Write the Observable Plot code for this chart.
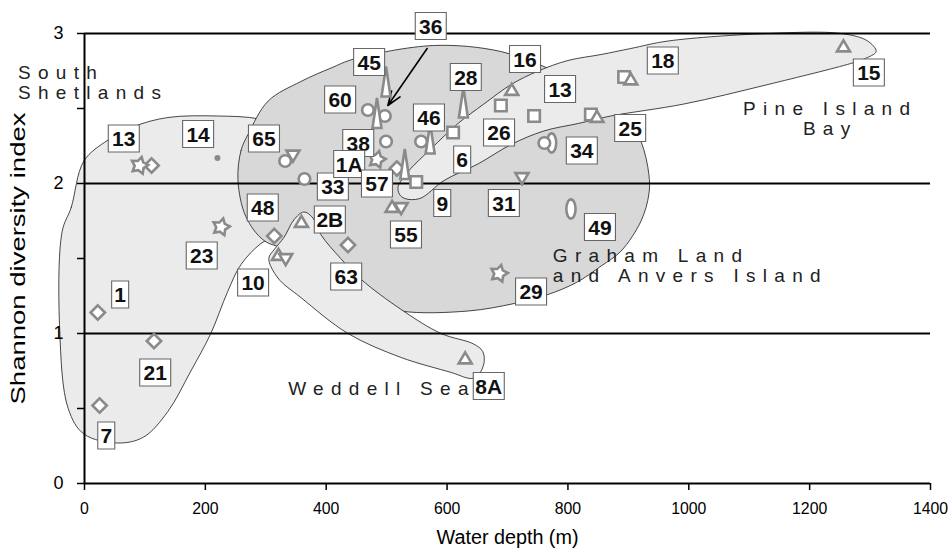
<!DOCTYPE html>
<html><head><meta charset="utf-8">
<script src="https://cdn.jsdelivr.net/npm/d3@7"></script>
<script src="https://cdn.jsdelivr.net/npm/@observablehq/plot@0.6"></script>
<style>body{margin:0;background:#fff}</style>
</head><body><div id="chart"></div>
<script>
// ---------- data ----------
const siteDepth   = [91,111,220,226,22,115,25,314,321,333,359,436,509,524,332,345,364,484,499,469,497,499,484,572,557,627,530,517,549,610,689,707,744,838,848,761,773,724,805,893,904,1256,686,630];
const siteShannon = [2.12,2.12,2.17,1.71,1.14,0.95,0.52,1.65,1.52,1.50,1.74,1.59,1.84,1.84,2.15,2.19,2.03,2.16,2.28,2.49,2.45,2.68,2.47,2.30,2.28,2.54,2.13,2.10,2.01,2.34,2.52,2.62,2.45,2.46,2.44,2.27,2.27,2.04,1.83,2.71,2.69,2.91,1.40,0.83];
const siteShape   = ["star","diamond","smalldot","star","diamond","diamond","diamond","diamond","triangle","triangleDown","triangle","diamond","triangle","triangleDown","circle","triangleDown","circle","star","circle","circle","circle","tallTriangle","tallTriangle","tallTriangle","circle","tallTriangle","tallTriangle","diamond","square","square","square","triangle","square","square","triangle","circle","ellipse","triangleDown","ellipse","square","triangle","triangle","star","triangle"];

const labelText    = ["13","14","65","33","48","2B","60","45","36","38","1A","57","46","28","16","13","26","6","9","31","55","34","49","18","25","15","63","29","8A","23","10","1","21","7"];
const labelDepth   = [65,188,297,411,295,406,423,471,573,453,438,484,570,631,729,787,686,625,592,694,532,823,853,957,903,1298,433,739,669,194,279,59,117,36];
const labelShannon = [2.30,2.33,2.30,1.98,1.84,1.76,2.56,2.81,3.05,2.27,2.13,2.00,2.44,2.71,2.83,2.63,2.34,2.16,1.87,1.87,1.66,2.22,1.71,2.82,2.37,2.74,1.38,1.28,0.65,1.52,1.34,1.26,0.74,0.32];

const regionLabelText    = ["South\nShetlands","Pine Island\nBay","Graham Land\nand Anvers Island","Weddell Sea"];
const regionLabelDepth   = [-110,1234,775,337];
const regionLabelShannon = [2.67,2.43,1.45,0.63];

const southShetlandsOutline = [[-37,1.68],[-22,1.84],[-1,2.15],[39,2.29],[82,2.38],[138,2.44],[220,2.45],[290,2.43],[350,2.35],[390,2.05],[360,1.78],[320,1.66],[292,1.60],[259,1.46],[237,1.28],[209,1.00],[176,0.75],[138,0.48],[98,0.31],[55,0.27],[-1,0.33],[-27,0.50],[-41,1.02]];
const grahamLandOutline = [[254,2.02],[259,2.22],[271,2.33],[304,2.55],[358,2.68],[408,2.77],[446,2.83],[578,2.92],[689,2.88],[772,2.76],[846,2.62],[896,2.45],[921,2.28],[934,2.06],[934,1.93],[921,1.75],[888,1.55],[855,1.45],[814,1.34],[767,1.26],[711,1.20],[635,1.15],[524,1.15],[474,1.22],[408,1.38],[342,1.55],[297,1.62],[267,1.78]];
const weddellOutline = [[305,1.50],[320,1.37],[358,1.24],[436,1.00],[524,0.84],[607,0.74],[640,0.70],[651,0.72],[661,0.80],[659,0.88],[644,0.93],[590,1.00],[524,1.16],[458,1.36],[424,1.50],[391,1.66],[378,1.77],[363,1.81],[347,1.76],[330,1.64],[314,1.56]];
const pineIslandOutline = [[519,1.98],[528,2.04],[540,2.10],[573,2.23],[618,2.40],[661,2.53],[706,2.66],[751,2.75],[800,2.82],[855,2.86],[904,2.90],[966,2.95],[1131,3.00],[1252,3.00],[1296,2.95],[1310,2.88],[1290,2.83],[1268,2.80],[1131,2.66],[992,2.53],[871,2.45],[817,2.40],[760,2.35],[706,2.26],[651,2.13],[595,2.02],[555,1.90],[530,1.90],[521,1.93]];

const arrowFrom = [567, 2.90];
const arrowTo   = [502, 2.52];

const xTicks = [0,200,400,600,800,1000,1200,1400];
const yTicks = [0,0.5,1,1.5,2,2.5,3];
const gridValues = [1,2,3];
const xTitle = "Water depth (m)";
const yTitle = "Shannon diversity index";

// ---------- tables ----------
const sites = siteDepth.map((d,i)=>({depth:d, shannon:siteShannon[i], shape:siteShape[i]}));
const labels = labelText.map((t,i)=>({text:t, depth:labelDepth[i], shannon:labelShannon[i]}));
const regionLabels = regionLabelText.map((t,i)=>({text:t, depth:regionLabelDepth[i], shannon:regionLabelShannon[i]}));
const toRows = a => a.map(([depth,shannon])=>({depth,shannon}));

// ---------- symbols ----------
function ellipse(c, rx, ry){
  const k=0.5523;
  c.moveTo(0,-ry);
  c.bezierCurveTo(k*rx,-ry, rx,-k*ry, rx,0);
  c.bezierCurveTo(rx,k*ry, k*rx,ry, 0,ry);
  c.bezierCurveTo(-k*rx,ry, -rx,k*ry, -rx,0);
  c.bezierCurveTo(-rx,-k*ry, -k*rx,-ry, 0,-ry);
  c.closePath();
}
const symbols = {
  diamond: {draw(c){const r=7.2; c.moveTo(0,-r);c.lineTo(r,0);c.lineTo(0,r);c.lineTo(-r,0);c.closePath();}},
  triangle: {draw(c){const w=13,h=11; c.moveTo(0,-h*0.6);c.lineTo(w/2,h*0.4);c.lineTo(-w/2,h*0.4);c.closePath();}},
  triangleDown: {draw(c){const w=13,h=11; c.moveTo(0,h*0.6);c.lineTo(w/2,-h*0.4);c.lineTo(-w/2,-h*0.4);c.closePath();}},
  square: {draw(c){const s=11.5; c.rect(-s/2,-s/2,s,s);}},
  circle: {draw(c){const r=5.8; c.moveTo(r,0); c.arc(0,0,r,0,2*Math.PI); c.closePath();}},
  star: {draw(c){const R=8.8,r=4.8; for(let i=0;i<10;i++){const a=-Math.PI/2+0.25+i*Math.PI/5, rr=i%2?r:R; const x=rr*Math.cos(a), y=rr*Math.sin(a); if(i) c.lineTo(x,y); else c.moveTo(x,y);} c.closePath();}},
  tallTriangle: {draw(c){c.moveTo(0,-15);c.lineTo(4.5,15);c.lineTo(-4.5,15);c.closePath();}},
  ellipse: {draw(c){ellipse(c,4.6,9.6);}},
  smalldot: {draw(c){const r=3; c.moveTo(r,0); c.arc(0,0,r,0,2*Math.PI); c.closePath();}}
};
const boxWide = {draw(c){c.rect(-15.5,-13.5,31,27);}};
const boxNarrow = {draw(c){c.rect(-8.5,-13.5,17,27);}};

const markerGray = "#8a8a8a";
const shapeOrder = ["ellipse","diamond","circle","square","triangle","triangleDown","star","tallTriangle","smalldot"];

const regionStyle = {x:"depth", y:"shannon", curve:"catmull-rom-closed", stroke:"#1a1a1a", strokeWidth:0.8};

const plot = Plot.plot({
  width: 949, height: 558,
  marginLeft: 84, marginRight: 19, marginTop: 33, marginBottom: 75,
  x: {domain: [0,1400]},
  y: {domain: [0,3]},
  style: {fontFamily: "'Liberation Sans', Arial, sans-serif", background: "white", overflow: "visible", color: "black"},
  marks: [
    Plot.line(toRows(southShetlandsOutline), {...regionStyle, fill:"#ebebeb"}),
    Plot.line(toRows(grahamLandOutline), {...regionStyle, fill:"#d8d8d8"}),
    Plot.line(toRows(weddellOutline), {...regionStyle, fill:"#ebebeb"}),
    Plot.line(toRows(pineIslandOutline), {...regionStyle, fill:"#ebebeb"}),
    Plot.ruleY(gridValues, {stroke:"black", strokeWidth:2}),
    Plot.ruleY([0], {stroke:"black", strokeWidth:2}),
    Plot.ruleX([0], {stroke:"black", strokeWidth:2}),
    Plot.axisY({ticks: yTicks, tickSize: 7, tickPadding: 14, strokeWidth: 1.5, fontSize: 18, label: null,
                tickFormat: d => Number.isInteger(d) ? String(d) : ""}),
    Plot.axisX({ticks: xTicks, tickSize: 7, tickPadding: 11, strokeWidth: 1.5, fontSize: 17, label: null,
                tickFormat: d => String(d)}),
    Plot.text([xTitle], {frameAnchor: "bottom", dy: 60, fontSize: 20}),
    Plot.text([yTitle], {frameAnchor: "left", textAnchor: "middle", dx: -66, rotate: -90, fontSize: 20}),
    Plot.text(regionLabels.filter(d=>d.text.startsWith("Pine")), {x:"depth", y:"shannon", text:"text", textAnchor:"middle", fontSize:19, lineHeight:1.05, fill:"#222"}),
    Plot.text(regionLabels.filter(d=>!d.text.startsWith("Pine")), {x:"depth", y:"shannon", text:"text", textAnchor:"start", fontSize:19, lineHeight:1.05, fill:"#222"}),
    Plot.arrow([{x1:arrowFrom[0], y1:arrowFrom[1], x2:arrowTo[0], y2:arrowTo[1]}], {x1:"x1", y1:"y1", x2:"x2", y2:"y2", stroke:"black", strokeWidth:1.6, headLength:14, headAngle:40}),
    ...shapeOrder.map(s => Plot.dot(sites.filter(d=>d.shape===s), {
      x:"depth", y:"shannon", symbol: symbols[s],
      fill: s==="smalldot" ? markerGray : "white",
      stroke: s==="smalldot" ? "none" : markerGray,
      strokeWidth: 2.6
    })),
    ...labels.flatMap(l => [
      Plot.dot([l], {x:"depth", y:"shannon", symbol: l.text.length>1 ? boxWide : boxNarrow, fill:"white", stroke:"#666", strokeWidth:1.1}),
      Plot.text([l], {x:"depth", y:"shannon", text:"text", fontSize:21, fontWeight:"bold", fill:"#111", dy:1})
    ])
  ]
});
// letter-spaced region names, stretched titles
const regionFlat = regionLabelText.map(t => t.replace("\n",""));
plot.querySelectorAll("text").forEach(t => {
  const s = t.textContent;
  if (regionFlat.includes(s)) t.setAttribute("letter-spacing", "7.3");
  if (s === yTitle) { t.setAttribute("textLength", "292"); t.setAttribute("lengthAdjust", "spacingAndGlyphs"); }
  if (s === xTitle) { t.setAttribute("textLength", "142"); t.setAttribute("lengthAdjust", "spacingAndGlyphs"); }
});
plot.querySelectorAll('g[aria-label="x-axis tick label"] text').forEach(t => {
  const n = t.textContent.length;
  t.setAttribute("textLength", String(8.8*n));
  t.setAttribute("lengthAdjust", "spacingAndGlyphs");
});
document.getElementById("chart").appendChild(plot);
</script>
</body></html>
